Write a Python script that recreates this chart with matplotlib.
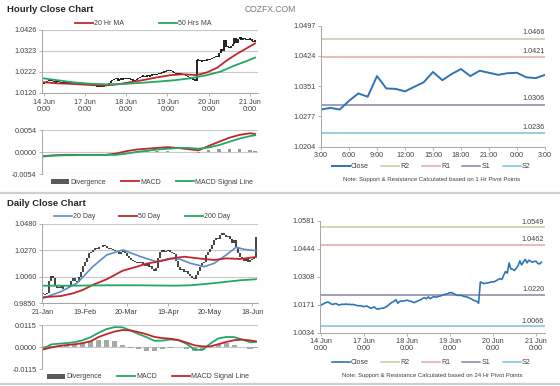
import numpy as np
import matplotlib
matplotlib.use("Agg")
import matplotlib.pyplot as plt
from matplotlib.lines import Line2D
from matplotlib.patches import Patch

plt.rcParams['font.family'] = ['Liberation Sans', 'DejaVu Sans']

# ---------------- data ----------------
# hourly close, 14 Jun 0:00 -> 21 Jun 3:00 (trading hours only)
hourly_close = [
    1.0168, 1.0172, 1.0177, 1.0181, 1.0184, 1.0180, 1.0174, 1.0172, 1.0176, 1.0175,
    1.0169, 1.0171, 1.0173, 1.0172, 1.0174, 1.0172, 1.0173, 1.0171, 1.0172, 1.0170,
    1.0168, 1.0165, 1.0166, 1.0164, 1.0161, 1.0163, 1.0164, 1.0158, 1.0153, 1.0157,
    1.0160, 1.0151, 1.0149, 1.0152, 1.0153, 1.0154, 1.0158, 1.0163, 1.0170, 1.0178,
    1.0183, 1.0188, 1.0195, 1.0178, 1.0186, 1.0189, 1.0188, 1.0190, 1.0193, 1.0190,
    1.0188, 1.0185, 1.0181, 1.0184, 1.0189, 1.0192, 1.0196, 1.0202, 1.0204, 1.0200,
    1.0209, 1.0201, 1.0205, 1.0210, 1.0208, 1.0209, 1.0212, 1.0214, 1.0218, 1.0221,
    1.0223, 1.0225, 1.0230, 1.0229, 1.0226, 1.0221, 1.0217, 1.0216, 1.0217, 1.0214,
    1.0211, 1.0210, 1.0207, 1.0203, 1.0199, 1.0193, 1.0190, 1.0187, 1.0178, 1.0282,
    1.0278, 1.0274, 1.0276, 1.0277, 1.0279, 1.0282, 1.0282, 1.0284, 1.0289, 1.0294,
    1.0298, 1.0294, 1.0315, 1.0333, 1.0325, 1.0375, 1.0345, 1.0344, 1.0338, 1.0349,
    1.0360, 1.0385, 1.0365, 1.0380, 1.0392, 1.0375, 1.0388, 1.0383, 1.0378, 1.0382,
    1.0383, 1.0372, 1.0370, 1.0378,
]
hourly_ticks = [0, 24, 48, 72, 96, 120]
hourly_ticklabels = ["14 Jun\n0:00", "17 Jun\n0:00", "18 Jun\n0:00",
                     "19 Jun\n0:00", "20 Jun\n0:00", "21 Jun\n0:00"]

ma20h_x = [0, 8, 17, 27, 35, 43, 50, 58, 66, 74, 81, 89, 95, 101, 106, 112, 118, 123]
ma20h_y = [1.0172, 1.0167, 1.0164, 1.0159, 1.0156, 1.0162, 1.0172, 1.0183, 1.0196,
           1.0207, 1.0211, 1.0207, 1.0220, 1.0243, 1.0275, 1.0308, 1.0337, 1.0361]
ma50h_x = [0, 8, 17, 27, 37, 47, 56, 66, 76, 85, 95, 103, 110, 118, 123]
ma50h_y = [1.0191, 1.0182, 1.0172, 1.0165, 1.0162, 1.0164, 1.0169, 1.0175, 1.0182,
           1.0191, 1.0207, 1.0224, 1.0250, 1.0275, 1.0292]

macdh_x = [0, 6, 12, 18, 24, 30, 36, 42, 48, 54, 60, 66, 72, 78, 84, 90, 96, 102, 108, 114, 120, 123]
macdh = [-0.0010, -0.0008, -0.0007, -0.0007, -0.0007, -0.0007, -0.0007, -0.0004, 0.0002, 0.0006,
         0.0008, 0.0010, 0.0012, 0.0010, 0.0007, 0.0004, 0.0015, 0.0025, 0.0035, 0.0042, 0.0046, 0.0044]
signalh = [-0.0011, -0.0009, -0.0008, -0.0008, -0.0007, -0.0007, -0.0007, -0.0007, -0.0004, 0.0000,
           0.0003, 0.0006, 0.0008, 0.0010, 0.0010, 0.0008, 0.0011, 0.0017, 0.0025, 0.0033, 0.0039, 0.0041]
divh = [0.0000, 0.0000, 0.0000, 0.0000, 0.0000, 0.0000, 0.0000, 0.0001, 0.0002, 0.0003,
        0.0003, 0.0003, 0.0002, 0.0001, -0.0001, -0.0003, 0.0004, 0.0007, 0.0008, 0.0007, 0.0005, 0.0002]

# pivot levels
levels_1h = {"R2": 1.0466, "R1": 1.0421, "S1": 1.0306, "S2": 1.0236}
levels_24h = {"R2": 1.0549, "R1": 1.0462, "S1": 1.0220, "S2": 1.0066}
right1_ticklabels = ["3:00", "6:00", "9:00", "12:00", "15:00", "18:00", "21:00", "0:00", "3:00"]

# daily close 21-Jan -> 20-Jun
daily_close = [
    0.9925, 0.9920, 0.9935, 1.0030, 1.0070, 1.0050, 0.9990, 0.9975, 0.9970, 0.9985,
    0.9965, 0.9960, 0.9975, 0.9990, 1.0030, 1.0050, 1.0030, 1.0020, 1.0060, 1.0100,
    1.0150, 1.0180, 1.0210, 1.0250, 1.0260, 1.0270, 1.0290, 1.0285, 1.0300, 1.0295,
    1.0310, 1.0305, 1.0290, 1.0280, 1.0285, 1.0270, 1.0265, 1.0255, 1.0240, 1.0255,
    1.0270, 1.0250, 1.0225, 1.0210, 1.0195, 1.0185, 1.0180, 1.0175, 1.0170, 1.0180,
    1.0165, 1.0150, 1.0160, 1.0140, 1.0150, 1.0125, 1.0105, 1.0130, 1.0210, 1.0260,
    1.0270, 1.0255, 1.0265, 1.0270, 1.0260, 1.0250, 1.0245, 1.0190, 1.0140, 1.0115,
    1.0120, 1.0100, 1.0110, 1.0080, 1.0065, 1.0050, 1.0040, 1.0075, 1.0110, 1.0140,
    1.0170, 1.0180, 1.0230, 1.0260, 1.0285, 1.0310, 1.0350, 1.0370, 1.0360, 1.0395,
    1.0410, 1.0390, 1.0375, 1.0385, 1.0360, 1.0330, 1.0350, 1.0300, 1.0250, 1.0215,
    1.0200, 1.0190, 1.0210, 1.0180, 1.0195, 1.0200, 1.0215, 1.0375,
]
daily_ticks = [0, 21, 42, 63, 84, 105]
daily_ticklabels = ["21-Jan", "19-Feb", "20-Mar", "19-Apr", "20-May", "18-Jun"]

ma20d_x = [0, 9, 17, 25, 32, 40, 49, 57, 64, 69, 74, 81, 86, 92, 97, 101, 107]
ma20d_y = [0.9890, 0.9943, 1.0009, 1.0141, 1.0234, 1.0274, 1.0221, 1.0181, 1.0207,
           1.0199, 1.0168, 1.0141, 1.0168, 1.0234, 1.0295, 1.0279, 1.0268]
ma50d_x = [0, 9, 15, 20, 25, 32, 40, 47, 52, 59, 66, 71, 79, 86, 92, 99, 107]
ma50d_y = [0.9898, 0.9908, 0.9929, 0.9956, 0.9996, 1.0041, 1.0109, 1.0140, 1.0165,
           1.0185, 1.0210, 1.0220, 1.0205, 1.0194, 1.0207, 1.0202, 1.0218]
ma200d_x = [0, 15, 32, 49, 66, 74, 82, 91, 99, 107]
ma200d_y = [0.9990, 0.9990, 0.9993, 0.9993, 0.9990, 0.9993, 1.0004, 1.0019, 1.0033, 1.0041]

macdd_x = [0, 4, 8, 12, 16, 20, 24, 28, 32, 36, 40, 44, 48, 52, 56, 60, 64, 68, 72, 76,
           80, 84, 88, 92, 96, 100, 104, 107]
macdd = [-0.0009, 0.0014, 0.0018, 0.0021, 0.0026, 0.0036, 0.0052, 0.0075, 0.0094, 0.0104,
         0.0103, 0.0086, 0.0068, 0.0052, 0.0033, 0.0034, 0.0040, 0.0036, 0.0018, -0.0012,
         -0.0015, 0.0018, 0.0045, 0.0053, 0.0052, 0.0040, 0.0025, 0.0028]
signald = [-0.0012, -0.0002, 0.0006, 0.0011, 0.0015, 0.0021, 0.0031, 0.0053, 0.0068, 0.0081,
           0.0089, 0.0087, 0.0078, 0.0067, 0.0053, 0.0047, 0.0044, 0.0037, 0.0024, 0.0010,
           0.0004, 0.0004, 0.0015, 0.0027, 0.0036, 0.0039, 0.0035, 0.0030]
divd = [0.0004, 0.0005, 0.0006, 0.0010, 0.0015, 0.0022, 0.0030, 0.0037, 0.0038, 0.0030,
        0.0012, -0.0002, -0.0012, -0.0018, -0.0018, -0.0010, -0.0002, 0.0000, -0.0010, -0.0020,
        -0.0015, 0.0008, 0.0018, 0.0022, 0.0012, 0.0000, -0.0008, -0.0004]

# ---------------- figure ----------------
W, H = 560, 386
fig = plt.figure(figsize=(W / 100, H / 100), dpi=100)
fig.patch.set_facecolor('white')

TXT = '#404040'
AX = '#a6a6a6'
RED = '#c0272d'
GREEN = '#22a866'
BLUE = '#2f75b5'
SBLUE = '#5b8ec4'
lvl_colors = {"R2": '#c9cc98', "R1": '#e3a7a7', "S1": '#8c82a8', "S2": '#79c3d3'}


def add_ax(left, top, right, bottom):
    return fig.add_axes([left / W, 1 - bottom / H, (right - left) / W, (bottom - top) / H])


def style_left(ax):
    for s in ['top', 'right']:
        ax.spines[s].set_visible(False)
    for s in ['left', 'bottom']:
        ax.spines[s].set_color(AX)
        ax.spines[s].set_linewidth(0.7)
    ax.yaxis.grid(True, color='#c8c8c8', lw=0.8)
    ax.set_axisbelow(True)
    ax.tick_params(labelsize=5.2, colors=AX, labelcolor=TXT, length=2.5, width=0.6, pad=1.5)


def style_right(ax):
    for s in ['top', 'right']:
        ax.spines[s].set_visible(False)
    for s in ['left', 'bottom']:
        ax.spines[s].set_color(AX)
        ax.spines[s].set_linewidth(0.7)
    ax.tick_params(labelsize=5.2, colors=AX, labelcolor=TXT, length=2.5, width=0.6, pad=1.5)


def fig_legend(handles, labels, cx, cy, spacing=2.5, size=5):
    leg = fig.legend(handles, labels, loc='center', bbox_to_anchor=(cx / W, 1 - cy / H),
                     ncol=len(handles), frameon=False, fontsize=size, handlelength=2.6,
                     handletextpad=0.15, columnspacing=spacing, borderpad=0)
    for t in leg.get_texts():
        t.set_color(TXT)
    return leg


def candles(ax, x, close, min_body, lw):
    # body from previous close to close; tiny bodies get a minimum visible height
    close = np.asarray(close)
    opens = np.r_[close[0], close[:-1]]
    mid = (opens + close) / 2
    half = np.maximum(np.abs(close - opens) / 2, min_body / 2)
    ax.vlines(x, mid - half, mid + half, color='#111111', lw=lw)


# titles
fig.text(7 / W, 1 - 9 / H, 'Hourly Close Chart', fontsize=6.8, fontweight='bold', color='#262626', va='center')
fig.text(245 / W, 1 - 9 / H, 'COZFX.COM', fontsize=6.2, color='#7a7a7a', va='center')
fig.text(7 / W, 1 - 203 / H, 'Daily Close Chart', fontsize=6.8, fontweight='bold', color='#262626', va='center')
fig.add_artist(Line2D([0, 1], [1 - 193 / H] * 2, color='#cfcfcf', lw=1.6))
fig.add_artist(Line2D([0, 1], [1 - 384 / H] * 2, color='#cfcfcf', lw=1.6))

# ---- hourly candles ----
hours = np.arange(len(hourly_close))
ax1 = add_ax(42, 30, 258, 93)
style_left(ax1)
candles(ax1, hours, hourly_close, 0.0006, 1.3)
l20h, = ax1.plot(ma20h_x, ma20h_y, color=RED, lw=1.3)
l50h, = ax1.plot(ma50h_x, ma50h_y, color=GREEN, lw=1.3)
ax1.set_ylim(1.0120, 1.0426)
ax1.set_yticks(np.linspace(1.0120, 1.0426, 4))
ax1.set_yticklabels(["1.0120", "1.0222", "1.0323", "1.0426"])
ax1.set_xlim(-1, 124.7)
ax1.set_xticks(hourly_ticks)
ax1.set_xticklabels(hourly_ticklabels, linespacing=1.0)
fig_legend([l20h, l50h], ["20 Hr MA", "50 Hrs MA"], 143, 23.5, spacing=5)

# ---- hourly MACD ----
ax2 = add_ax(42, 130, 258, 174)
style_left(ax2)
ax2.bar(macdh_x, divh, width=2.0, color='#9a9a9a')
m1, = ax2.plot(macdh_x, macdh, color=RED, lw=1.3)
s1, = ax2.plot(macdh_x, signalh, color=GREEN, lw=1.3)
ax2.set_ylim(-0.0054, 0.0054)
ax2.set_yticks([-0.0054, 0.0, 0.0054])
ax2.set_yticklabels(["-0.0054", "0.0000", "0.0054"])
ax2.set_xlim(-1, 124.7)
ax2.set_xticks(hourly_ticks)
ax2.set_xticklabels([])
ax2.spines['bottom'].set_visible(False)
ax2.tick_params(axis='x', length=0)
fig_legend([Patch(facecolor='#5a5a5a'), m1, s1], ["Divergence", "MACD", "MACD Signal Line"], 152, 182, spacing=2.2)

# ---- hourly pivot (right) ----
ax3 = add_ax(321, 25.7, 545, 146.7)
style_right(ax3)
last24 = hourly_close[-25:]
x24 = np.arange(len(last24))
for name, v in levels_1h.items():
    ax3.axhline(v, color=lvl_colors[name], lw=1.1)
    ax3.text(24, v + 0.0006, f"{v:.4f}", fontsize=5.2, color=TXT, ha='right', va='bottom')
lc, = ax3.plot(x24, last24, color=BLUE, lw=1.4)
ax3.set_ylim(1.0204, 1.0497)
ax3.set_yticks(np.linspace(1.0204, 1.0497, 5))
ax3.set_yticklabels(["1.0204", "1.0277", "1.0351", "1.0424", "1.0497"])
ax3.set_xlim(0, 24)
ax3.set_xticks(np.arange(0, 25, 3))
ax3.set_xticklabels(right1_ticklabels)
lh = [lc] + [Line2D([], [], color=lvl_colors[n], lw=1.1) for n in levels_1h]
fig_legend(lh, ["Close", "R2", "R1", "S1", "S2"], 431, 167, spacing=1.8)
fig.text(432 / W, 1 - 180 / H, "Note: Support & Resistance Calculated based on 1 Hr Pivot Points",
         fontsize=4.3, color=TXT, ha='center', va='center')

# ---- daily candles ----
days = np.arange(len(daily_close))
ax4 = add_ax(42, 224, 258, 303.3)
style_left(ax4)
candles(ax4, days, daily_close, 0.0007, 1.1)
d20, = ax4.plot(ma20d_x, ma20d_y, color=SBLUE, lw=1.2)
d50, = ax4.plot(ma50d_x, ma50d_y, color=RED, lw=1.3)
d200, = ax4.plot(ma200d_x, ma200d_y, color=GREEN, lw=1.3)
ax4.set_ylim(0.9850, 1.0480)
ax4.set_yticks(np.linspace(0.9850, 1.0480, 4))
ax4.set_yticklabels(["0.9850", "1.0060", "1.0270", "1.0480"])
ax4.set_xlim(-0.5, 108)
ax4.set_xticks(daily_ticks)
ax4.set_xticklabels(daily_ticklabels)
fig_legend([d20, d50, d200], ["20 Day", "50 Day", "200 Day"], 142, 217, spacing=3.5)

# ---- daily MACD ----
ax5 = add_ax(42, 325, 258, 369.3)
style_left(ax5)
ax5.bar(macdd_x, divd, width=2.6, color='#a8a8a8')
dm, = ax5.plot(macdd_x, macdd, color=GREEN, lw=1.3)
ds, = ax5.plot(macdd_x, signald, color=RED, lw=1.3)
ax5.set_ylim(-0.0115, 0.0115)
ax5.set_yticks([-0.0115, 0.0, 0.0115])
ax5.set_yticklabels(["-0.0115", "0.0000", "0.0115"])
ax5.set_xlim(-0.5, 108)
ax5.set_xticks([])
ax5.spines['bottom'].set_visible(False)
fig_legend([Patch(facecolor='#5a5a5a'), dm, ds], ["Divergence", "MACD", "MACD Signal Line"], 148, 377, spacing=2.2)

# ---- 24h pivot (right) ----
ax6 = add_ax(320, 220.7, 545, 332.7)
style_right(ax6)
for name, v in levels_24h.items():
    ax6.axhline(v, color=lvl_colors[name], lw=1.1)
    ax6.text(124.5, v + 0.0008, f"{v:.4f}", fontsize=5.2, color=TXT, ha='right', va='bottom')
lc2, = ax6.plot(hours, hourly_close, color=BLUE, lw=1.2)
ax6.set_ylim(1.0034, 1.0581)
ax6.set_yticks(np.linspace(1.0034, 1.0581, 5))
ax6.set_yticklabels(["1.0034", "1.0171", "1.0308", "1.0444", "1.0581"])
ax6.set_xlim(-0.3, 125)
ax6.set_xticks(hourly_ticks)
ax6.set_xticklabels(hourly_ticklabels, linespacing=1.0)
lh2 = [lc2] + [Line2D([], [], color=lvl_colors[n], lw=1.1) for n in levels_24h]
fig_legend(lh2, ["Close", "R2", "R1", "S1", "S2"], 431, 363, spacing=1.8)
fig.text(432 / W, 1 - 376 / H, "Note: Support & Resistance Calculated based on 24 Hr Pivot Points",
         fontsize=4.3, color=TXT, ha='center', va='center')

fig.savefig('out.png', dpi=100, facecolor='white')
